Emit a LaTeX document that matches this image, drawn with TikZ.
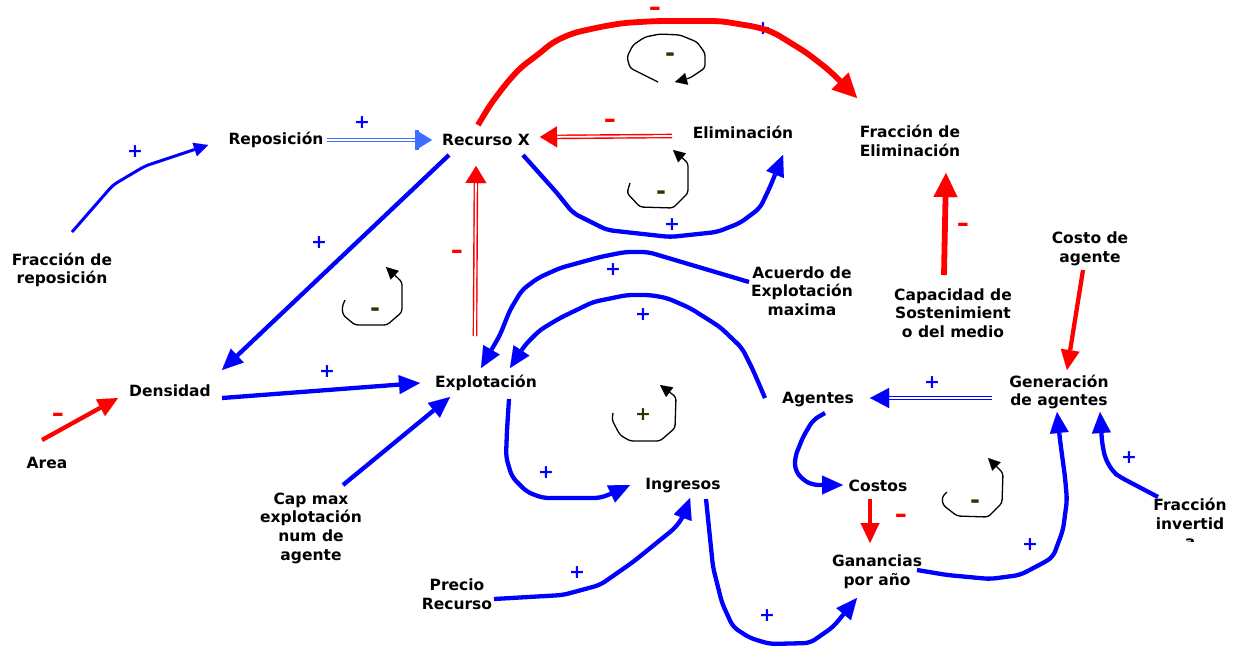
\documentclass[tikz,border=0pt]{standalone}
\usepackage{fontspec}
\usepackage{graphicx}
\setmainfont{DejaVu Sans}
\usetikzlibrary{arrows.meta,calc}
\definecolor{cblue}{RGB}{0,0,255}
\definecolor{cred}{RGB}{255,0,0}
\definecolor{lblue}{RGB}{60,110,255}
\definecolor{loopc}{RGB}{51,51,0}
\newcommand{\negsign}{\scalebox{1.45}[1.1]{-}}

\begin{document}
\begin{tikzpicture}[x=1pt,y=-1pt,
  var/.style={font=\fontsize{15.5}{18.7}\selectfont\bfseries, align=center, inner sep=0pt},
  plus/.style={font=\fontsize{19}{19}\selectfont\bfseries, text=cblue, inner sep=0pt},
  minus/.style={font=\fontsize{21}{21}\selectfont\bfseries, text=cred, inner sep=0pt},
  loopsign/.style={font=\fontsize{19}{19}\selectfont\bfseries, text=loopc, inner sep=0pt},
  loopminus/.style={font=\fontsize{24}{24}\selectfont\bfseries, text=loopc, inner sep=0pt},
  link/.style={draw=cblue, line width=4.3pt, rounded corners=6pt,
    -{Triangle[length=21pt,width=19pt,line width=0.01pt]}},
  thinlink/.style={draw=cblue, line width=3pt, rounded corners=5pt,
    -{Triangle[length=14pt,width=14pt,line width=0.01pt]}},
  neglink/.style={draw=cred, line width=4.3pt,
    -{Triangle[length=20pt,width=19pt,line width=0.01pt]}},
  bigneg/.style={draw=cred, line width=5.8pt, rounded corners=8pt,
    -{Triangle[length=24pt,width=24pt,line width=0.01pt]}},
  flowred/.style={draw=cred, double=white, double distance=1.8pt, line width=1.4pt,
    -{Triangle[length=17pt,width=21pt,line width=0.01pt]}},
  flowblue/.style={draw=cblue, double=white, double distance=1.8pt, line width=1.4pt,
    -{Triangle[length=19pt,width=20pt,line width=0.01pt]}},
  flowlight/.style={draw=lblue, double=white, double distance=1.8pt, line width=1.4pt,
    -{Bar[width=20pt,line width=4pt]. Triangle[length=13pt,width=16pt,line width=0.01pt]}},
  loopline/.style={draw=black, line width=1.3pt, rounded corners=3pt,
    -{Triangle[length=12pt,width=12pt,line width=0.01pt]}}
]
\useasboundingbox (0,0) rectangle (1243,649);

% variables
\node[var] (rep)   at (276,140) {Reposición};
\node[var] (rx)    at (486,140) {Recurso X};
\node[var] (elim)  at (743,132) {Eliminación};
\node[var] (fre)   at (910,141) {Fracción de\\Eliminación};
\node[var] (frep)  at (62,270)  {Fracción de\\reposición};
\node[var] (dens)  at (170,391) {Densidad};
\node[var] (area)  at (47,463)  {Area};
\node[var] (expl)  at (486,383) {Explotación};
\node[var] (acu)   at (802,291) {Acuerdo de\\Explotación\\maxima};
\node[var] (sost)  at (953,313) {Capacidad de\\Sostenimient\\o del medio};
\node[var] (costo) at (1090,249) {Costo de\\agente};
\node[var] (gen)   at (1059,392) {Generación\\de agentes};
\node[var] (ag)    at (818,400) {Agentes};
\node[var] (cost)  at (878,486) {Costos};
\node[var] (ing)   at (683,486) {Ingresos};
\node[var] (gan)   at (877,572) {Ganancias\\por año};
\node[var] (capx)  at (311,528) {Cap max\\explotación\\num de\\agente};
\node[var] (pre)   at (457,594) {Precio\\Recurso};
\begin{scope}
  \clip (1140,490) rectangle (1243,541);
  \node[var] (finv) at (1190,523) {Fracción\\invertid\\a};
\end{scope}

% stock and flows
\draw[flowlight] ($(rep)+(51,0)$) -- ($(rx)+(-54,0)$);
\node[plus] at (362,123) {+};
\draw[flowred] ($(elim)+(-71,4)$) -- ($(rx)+(54,-3)$);
\node[minus] at (610,123) {\negsign};
\draw[flowred] ($(expl)+(-11,-47)$) -- ($(rx)+(-10,26)$);
\node[minus] at (457,254) {\negsign};
\draw[flowblue] ($(gen)+(-67,6)$) -- ($(ag)+(52,-2)$);
\node[plus] at (932,383) {+};

% upper links
\draw[thinlink] ($(frep)+(10,-38)$) -- (113,185) -- (145,166) -- ($(rep)+(-68,5)$);
\node[plus] at (135,152) {+};
\node[plus] at (763,29) {+};
\draw[bigneg] ($(rx)+(-8,-15)$) -- (490,105) -- (505,85) -- (520,68) -- (540,53) -- (553,42)
  -- (573,33) -- (600,27) -- (623,23) -- (657,21) -- (720,21) -- (757,27) -- (773,32)
  -- (807,53) -- (830,71) -- ($(fre)+(-53,-43)$);
\node[minus] at (655,11) {\negsign};
\draw[link] ($(rx)+(37,15)$) -- (557,193) -- (573,213) -- (607,230) -- (670,237) -- (717,232)
  -- (740,223) -- (760,208) -- (770,187) -- ($(elim)+(40,23)$);
\node[plus] at (672,225) {+};
\draw[link] ($(rx)+(-37,15)$) -- ($(dens)+(52,-21)$);
\node[plus] at (319,243) {+};
\draw[bigneg] ($(sost)+(-9,-38)$) -- ($(fre)+(36,32)$);
\node[minus] at (963,227) {\negsign};

% links into Explotación
\draw[link] ($(acu)+(-53,-9)$) -- (648,252) -- (625,252) -- (600,257) -- (560,268) -- (538,278)
  -- (522,290) -- (510,310) -- (500,335) -- ($(expl)+(-5,-15)$);
\node[plus] at (613,270) {+};
\draw[link] ($(ag)+(-53,-2)$) -- (753,370) -- (742,348) -- (720,327) -- (690,308) -- (667,298)
  -- (650,295) -- (627,295) -- (593,302) -- (560,318) -- (540,330) -- (525,345) -- ($(expl)+(24,-15)$);
\node[plus] at (643,315) {+};
\draw[link] ($(dens)+(52,7)$) -- ($(expl)+(-66,0)$);
\node[plus] at (327,372) {+};
\draw[neglink] ($(area)+(-5,-23)$) -- ($(dens)+(-52,7)$);
\node[minus] at (58,417) {\negsign};
\draw[link] ($(capx)+(32,-43)$) -- ($(expl)+(-36,14)$);

% lower links
\draw[link] ($(expl)+(23,16)$) -- (507,430) -- (506,457) -- (512,477) -- (527,492) -- (543,498)
  -- (600,498) -- (613,493) -- ($(ing)+(-53,-1)$);
\node[plus] at (546,473) {+};
\draw[link] ($(pre)+(37,5)$) -- (563,595) -- (600,585) -- (633,562) -- (675,528) -- (683,517)
  -- ($(ing)+(7,12)$);
\node[plus] at (577,573) {+};
\draw[link] ($(ing)+(23,13)$) -- (713,567) -- (722,603) -- (733,627) -- (750,638) -- (770,644)
  -- (810,643) -- (833,627) -- ($(gan)+(-20,26)$);
\node[plus] at (767,616) {+};
\draw[link] ($(ag)+(7,13)$) -- (813,420) -- (803,437) -- (795,457) -- (795,470) -- (803,480)
  -- (813,485) -- ($(cost)+(-35,-1)$);
\draw[neglink] ($(cost)+(-8,13)$) -- ($(gan)+(-7,-29)$);
\node[minus] at (901,518) {\negsign};
\draw[neglink] ($(costo)+(-7,21)$) -- ($(gen)+(8,-22)$);
\draw[link] ($(gan)+(40,-2)$) -- (947,575) -- (990,579) -- (1020,575) -- (1043,563) -- (1053,557)
  -- (1063,530) -- (1067,500) -- (1065,477) -- (1060,440) -- ($(gen)+(-2,20)$);
\node[plus] at (1030,545) {+};
\draw[link] ($(finv)+(-32,-26)$) -- (1120,477) -- (1113,472) -- (1105,458) -- (1102,442)
  -- ($(gen)+(41,20)$);
\node[plus] at (1129,458) {+};

% loop markers
\draw[loopline] (658,82) -- (630,68) -- (627,57) -- (633,45) -- (645,37) -- (660,34) -- (680,35)
  -- (697,42) -- (705,53) -- (705,68) -- (690,78) -- (675,82);
\node[loopminus] at (670,57) {-};
\draw[loopline] (630,183) -- (627,193) -- (640,207) -- (673,208) -- (688,193) -- (688,163) -- (673,150);
\node[loopminus] at (661,195) {-};
\draw[loopline] (345,300) -- (342,307) -- (343,315) -- (355,325) -- (387,325) -- (402,312)
  -- (402,282) -- (386,267);
\node[loopminus] at (375,312) {-};
\draw[loopline] (613,413) -- (612,420) -- (620,435) -- (630,441) -- (660,441) -- (675,428)
  -- (676,397) -- (660,385);
\node[loopsign] at (643,415) {+};
\draw[loopline] (947,492) -- (942,497) -- (943,505) -- (957,516) -- (988,517) -- (1002,503)
  -- (1003,473) -- (988,458);
\node[loopminus] at (975,504) {-};
\end{tikzpicture}
\end{document}
